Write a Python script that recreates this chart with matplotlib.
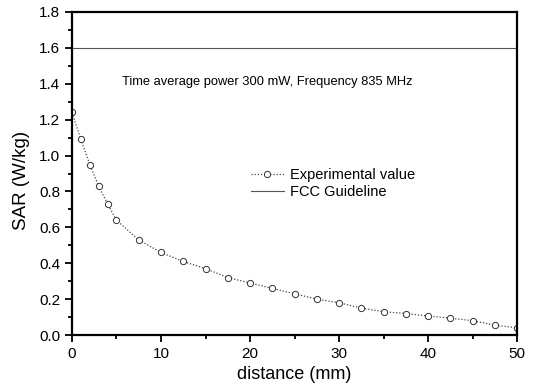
import matplotlib.pyplot as plt
from matplotlib.ticker import MultipleLocator

# measured SAR vs distance
distance = [0, 1, 2, 3, 4, 5, 7.5, 10, 12.5, 15, 17.5, 20, 22.5, 25, 27.5,
            30, 32.5, 35, 37.5, 40, 42.5, 45, 47.5, 50]
sar = [1.24, 1.09, 0.95, 0.83, 0.73, 0.64, 0.53, 0.46, 0.41, 0.37, 0.32,
       0.29, 0.26, 0.23, 0.20, 0.18, 0.15, 0.13, 0.12, 0.106, 0.094, 0.08,
       0.055, 0.04]
fcc_limit = 1.6

plt.rcParams["font.family"] = ["Liberation Sans", "DejaVu Sans"]

fig = plt.figure(figsize=(5.37, 3.86), dpi=100)
ax = fig.add_axes([0.134, 0.132, 0.829, 0.837])

ax.plot(distance, sar, color="#444444", ls=(0, (1, 1.5)), lw=0.9,
        marker="o", ms=4.5, mfc="white", mec="#333333", mew=0.7,
        label="Experimental value")
ax.axhline(fcc_limit, color="#555555", lw=0.8, label="FCC Guideline")

ax.text(5.6, 1.41, "Time average power 300 mW, Frequency 835 MHz",
        fontsize=9.3, va="center")

ax.set_xlim(0, 50)
ax.set_ylim(0, 1.8)
ax.xaxis.set_major_locator(MultipleLocator(10))
ax.xaxis.set_minor_locator(MultipleLocator(5))
ax.yaxis.set_major_locator(MultipleLocator(0.2))
ax.yaxis.set_minor_locator(MultipleLocator(0.1))
ax.yaxis.set_major_formatter(lambda v, p: f"{v:.1f}")

ax.tick_params(which="both", direction="out", labelsize=11, width=1.3)
ax.tick_params(which="major", length=5)
ax.tick_params(which="minor", length=3)
for s in ax.spines.values():
    s.set_linewidth(1.6)

ax.set_xlabel("distance (mm)", fontsize=13, labelpad=4)
ax.set_ylabel("SAR (W/kg)", fontsize=13.5, labelpad=2)
ax.yaxis.set_label_coords(-0.095, 0.48)

ax.legend(loc="center left", bbox_to_anchor=(0.372, 0.47), frameon=False,
          fontsize=10.5, handlelength=2.3, handletextpad=0.4,
          labelspacing=0.2)

fig.savefig("out.png", dpi=100)
